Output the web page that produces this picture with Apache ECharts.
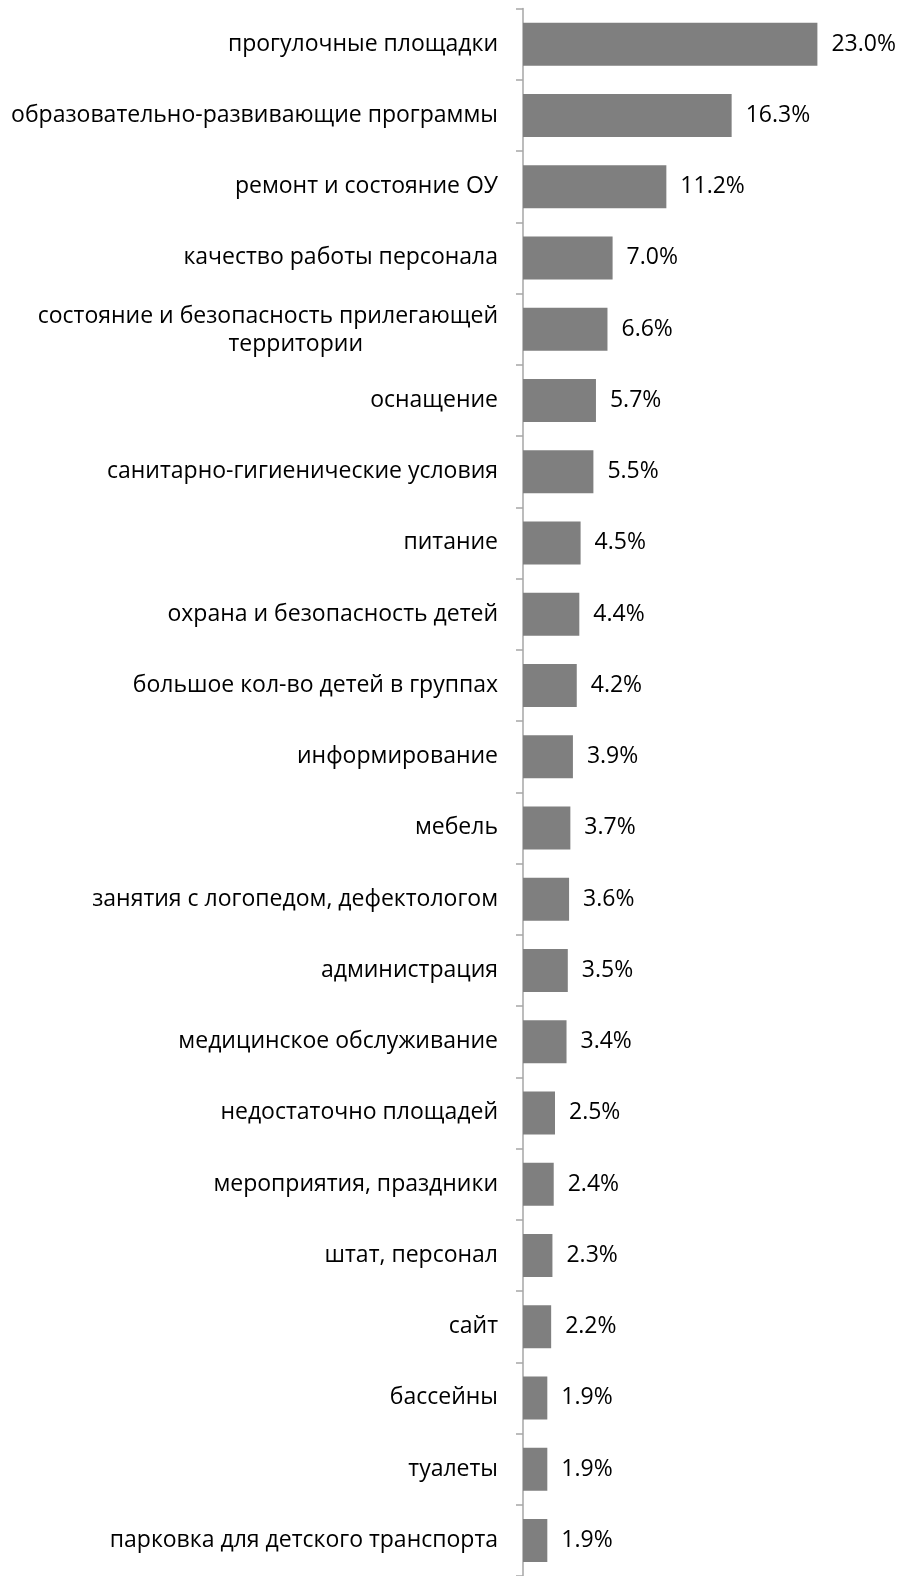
<!DOCTYPE html>
<html><head><meta charset="utf-8">
<script src="https://cdn.jsdelivr.net/npm/echarts@6/dist/echarts.min.js"></script>
<style>html,body{margin:0;padding:0;background:#fff}#c{width:903px;height:1576px}</style>
</head><body><div id="c"></div>
<script>
const categories = [
  'прогулочные площадки',
  'образовательно-развивающие программы',
  'ремонт и состояние ОУ',
  'качество работы персонала',
  'состояние и безопасность прилегающей\nтерритории',
  'оснащение',
  'санитарно-гигиенические условия',
  'питание',
  'охрана и безопасность детей',
  'большое кол-во детей в группах',
  'информирование',
  'мебель',
  'занятия с логопедом, дефектологом',
  'администрация',
  'медицинское обслуживание',
  'недостаточно площадей',
  'мероприятия, праздники',
  'штат, персонал',
  'сайт',
  'бассейны',
  'туалеты',
  'парковка для детского транспорта'
];
const values = [23.0, 16.3, 11.2, 7.0, 6.6, 5.7, 5.5, 4.5, 4.4, 4.2, 3.9, 3.7, 3.6, 3.5, 3.4, 2.5, 2.4, 2.3, 2.2, 1.9, 1.9, 1.9];

const FONT = 'Open Sans';
const FS = 23;
const chart = echarts.init(document.getElementById('c'), null, {renderer: 'canvas'});
chart.setOption({
  animation: false,
  grid: {left: 523, top: 8.5, width: 320, height: 1572, containLabel: false},
  xAxis: {type: 'value', min: 0, max: 25, show: false},
  yAxis: {
    type: 'category', data: categories, inverse: true,
    axisLine: {show: true, lineStyle: {color: '#a6a6a6', width: 1.5}},
    axisTick: {show: true, length: 7, lineStyle: {color: '#a6a6a6', width: 1.5}},
    axisLabel: {
      margin: 25, color: '#000', fontFamily: FONT, fontSize: FS, lineHeight: 28,
      formatter: function (v) {
        if (v.indexOf('\n') < 0) return v;
        const parts = v.split('\n');
        return '{a|' + parts[0] + '}\n{b|' + parts[1] + '}';
      },
      rich: {
        a: {fontFamily: FONT, fontSize: FS, lineHeight: 28, color: '#000', padding: [2, 0, 0, 0]},
        b: {fontFamily: FONT, fontSize: FS, lineHeight: 28, color: '#000', padding: [2, 135, 0, 0]}
      }
    },
    splitLine: {show: false}
  },
  series: [{
    type: 'bar', data: values, barWidth: 43,
    itemStyle: {color: '#7f7f7f'},
    label: {show: true, position: 'right', distance: 14, color: '#000', fontFamily: FONT, fontSize: FS,
      formatter: function (p) { return p.value.toFixed(1) + '%'; }}
  }]
});
</script></body></html>
